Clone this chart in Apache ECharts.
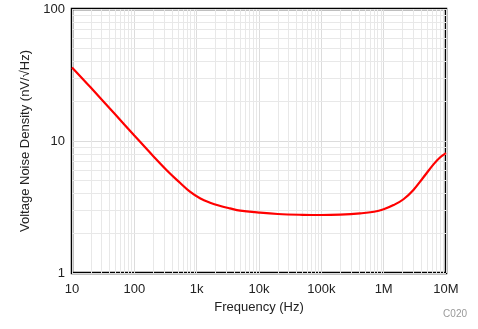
<!DOCTYPE html>
<html>
<head>
<meta charset="utf-8">
<script src="https://cdn.jsdelivr.net/npm/echarts@6/dist/echarts.min.js"></script>
<style>
  html, body { margin: 0; padding: 0; background: #fff; }
  #chart { width: 478px; height: 329px; }
</style>
</head>
<body>
<div id="chart"></div>
<script>
// Voltage noise density versus frequency
const freqHz = [10, 20, 50, 100, 200, 370, 540, 780, 1130, 1640, 2400, 3400, 5000, 10000,
  20000, 50000, 100000, 200000, 420000, 700000, 1000000, 1440000, 2080000, 3000000, 4350000,
  6300000, 8000000, 10000000];
const noiseNv = [36.1, 25.4, 15.8, 11.0, 7.7, 5.69, 4.83, 4.13, 3.68, 3.41, 3.22, 3.09, 2.97, 2.87,
  2.8, 2.76, 2.75, 2.77, 2.83, 2.91, 3.04, 3.27, 3.62, 4.26, 5.31,
  6.65, 7.5, 8.1];

// Tick labels for the decade marks
const xTickValues = [10, 100, 1000, 10000, 100000, 1000000, 10000000];
const xTickLabels = ['10', '100', '1k', '10k', '100k', '1M', '10M'];
const yTickValues = [1, 10, 100];
const yTickLabels = ['1', '10', '100'];

// Minor grid positions (2..9 within each decade)
const minorMultipliers = [2, 3, 4, 5, 6, 7, 8, 9];
const xDecades = [10, 100, 1000, 10000, 100000, 1000000];
const yDecades = [1, 10];

const xMinor = [];
xDecades.forEach(d => minorMultipliers.forEach(m => xMinor.push(d * m)));
const yMinor = [];
yDecades.forEach(d => minorMultipliers.forEach(m => yMinor.push(d * m)));

const font = 'Liberation Sans, Arial, sans-serif';

function tickText(values, labels) {
  return v => {
    const i = values.findIndex(t => Math.abs(Math.log10(t) - Math.log10(v)) < 1e-6);
    return i >= 0 ? labels[i] : '';
  };
}

const chart = echarts.init(document.getElementById('chart'), null, { renderer: 'canvas' });

chart.setOption({
  animation: false,
  grid: {
    left: 72, right: 32, top: 9, bottom: 56,
    show: true, borderColor: '#000', borderWidth: 2.5, backgroundColor: 'transparent'
  },
  xAxis: {
    type: 'log', logBase: 10, min: 10, max: 10000000,
    name: 'Frequency (Hz)', nameLocation: 'middle', nameGap: 21,
    nameTextStyle: { fontFamily: font, fontSize: 13, color: '#222' },
    axisLine: { show: false },
    axisTick: { show: false },
    splitLine: { show: true, lineStyle: { color: '#dcdcdc', width: 1 } },
    axisLabel: { fontFamily: font, fontSize: 13, color: '#222', margin: 10,
      formatter: tickText(xTickValues, xTickLabels) }
  },
  yAxis: {
    type: 'log', logBase: 10, min: 1, max: 100,
    name: 'Voltage Noise Density (nV/√Hz)', nameLocation: 'middle', nameGap: 38, nameRotate: 90,
    nameTextStyle: { fontFamily: font, fontSize: 13, color: '#222' },
    axisLine: { show: false },
    axisTick: { show: false },
    splitLine: { show: true, lineStyle: { color: '#dcdcdc', width: 1 } },
    axisLabel: { fontFamily: font, fontSize: 13, color: '#222', margin: 7,
      formatter: tickText(yTickValues, yTickLabels) }
  },
  graphic: [{
    type: 'text', right: 11, bottom: 10,
    style: { text: 'C020', fill: '#999', font: '10px ' + font }
  }],
  series: [
    {
      // minor grid lines
      type: 'line', data: [], silent: true, z: 1,
      markLine: {
        silent: true, symbol: 'none', animation: false,
        label: { show: false },
        lineStyle: { color: '#e8e8e8', width: 1, type: 'solid' },
        data: xMinor.map(v => ({ xAxis: v })).concat(yMinor.map(v => ({ yAxis: v })))
      }
    },
    {
      type: 'line', z: 5,
      data: freqHz.map((f, i) => [f, noiseNv[i]]),
      smooth: 0.4, showSymbol: false,
      lineStyle: { color: '#ff0000', width: 2.2 },
      itemStyle: { color: '#ff0000' }
    }
  ]
});
</script>
</body>
</html>
